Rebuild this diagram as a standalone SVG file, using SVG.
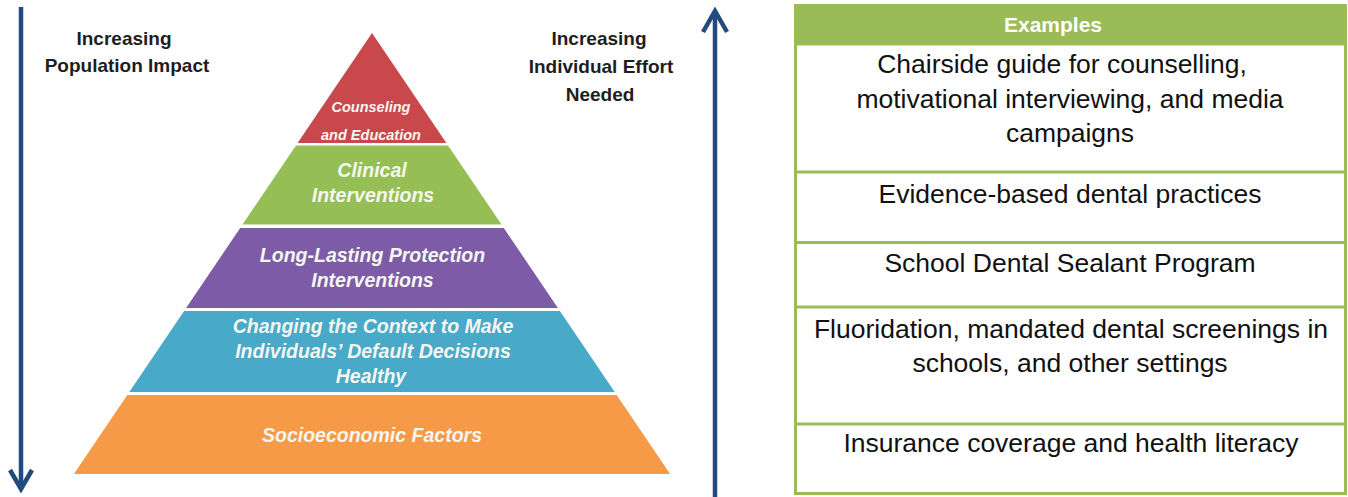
<svg xmlns="http://www.w3.org/2000/svg" width="1348" height="497" viewBox="0 0 1348 497">
<style>
.lbl{font-family:"Liberation Sans",Arial,sans-serif;font-weight:bold;font-size:19px;fill:#1e1e1e;text-anchor:middle}
.pyr{font-family:"Liberation Sans",Arial,sans-serif;font-weight:bold;font-style:italic;font-size:19.5px;fill:#f6f6f0;text-anchor:middle}
.pyrs{font-size:14.5px}
.cell{font-family:"Liberation Sans",Arial,sans-serif;font-size:26.5px;fill:#111;text-anchor:middle}
.hdr{font-family:"Liberation Sans",Arial,sans-serif;font-weight:bold;font-size:21px;fill:#fff;text-anchor:middle}
.arrow{stroke:#234a7c;stroke-width:4.5;fill:none;stroke-linecap:butt;stroke-linejoin:miter}
.grid{stroke:#9bbb59;stroke-width:3;fill:none}
</style>
<rect width="1348" height="497" fill="#ffffff"/>
<g id="connectors">
  <path class="arrow" d="M21 7 V488"/>
  <path class="arrow" d="M10 470 L21 489 L32 470"/>
  <path class="arrow" d="M715 13 V497"/>
  <path class="arrow" d="M703 32 L715 11 L727 32"/>
</g>
<g id="label-population">
  <text class="lbl" x="124" y="45">Increasing</text>
  <text class="lbl" x="127" y="72">Population Impact</text>
</g>
<g id="label-effort">
  <text class="lbl" x="599" y="45">Increasing</text>
  <text class="lbl" x="601" y="73">Individual Effort</text>
  <text class="lbl" x="600" y="101">Needed</text>
</g>
<g id="layer-counseling">
  <polygon points="372,33 446.4,143 297.6,143" fill="#c8484b"/>
  <text class="pyr pyrs" x="371" y="112">Counseling</text>
  <text class="pyr pyrs" x="371" y="140">and Education</text>
</g>
<g id="layer-clinical">
  <polygon points="296,145.5 448,145.5 501.5,224.5 242.5,224.5" fill="#95bf55"/>
  <text class="pyr" x="372" y="177">Clinical</text>
  <text class="pyr" x="373" y="202">Interventions</text>
</g>
<g id="layer-protection">
  <polygon points="240.2,228 503.8,228 557.9,308 186.1,308" fill="#7d5ba6"/>
  <text class="pyr" x="372.5" y="262">Long-Lasting Protection</text>
  <text class="pyr" x="372.5" y="287">Interventions</text>
</g>
<g id="layer-context">
  <polygon points="184.1,311 559.9,311 614.7,392 129.3,392" fill="#48a9c8"/>
  <text class="pyr" x="373" y="333">Changing the Context to Make</text>
  <text class="pyr" x="373" y="358">Individuals’ Default Decisions</text>
  <text class="pyr" x="371" y="383">Healthy</text>
</g>
<g id="layer-socioeconomic">
  <polygon points="127.3,395 616.7,395 670.1,474 73.9,474" fill="#f79a47"/>
  <text class="pyr" x="372" y="442">Socioeconomic Factors</text>
</g>
<g id="examples-table">
  <rect x="794" y="4" width="552" height="40" fill="#9bbb59"/>
  <rect class="grid" x="795.5" y="5.5" width="550" height="488"/>
  <path class="grid" d="M795 44 H1346 M795 172 H1346 M795 242.5 H1346 M795 307 H1346 M795 424 H1346"/>
  <text class="hdr" x="1053" y="32">Examples</text>
</g>
<g id="ex-counseling"><text class="cell" x="1062" y="73">Chairside guide for counselling,</text><text class="cell" x="1070" y="108">motivational interviewing, and media</text><text class="cell" x="1070" y="142">campaigns</text></g>
<g id="ex-clinical"><text class="cell" x="1070" y="203">Evidence-based dental practices</text></g>
<g id="ex-protection"><text class="cell" x="1070" y="272">School Dental Sealant Program</text></g>
<g id="ex-context"><text class="cell" x="1071" y="338">Fluoridation, mandated dental screenings in</text><text class="cell" x="1070" y="372">schools, and other settings</text></g>
<g id="ex-socioeconomic"><text class="cell" x="1071" y="452">Insurance coverage and health literacy</text></g>
</svg>
